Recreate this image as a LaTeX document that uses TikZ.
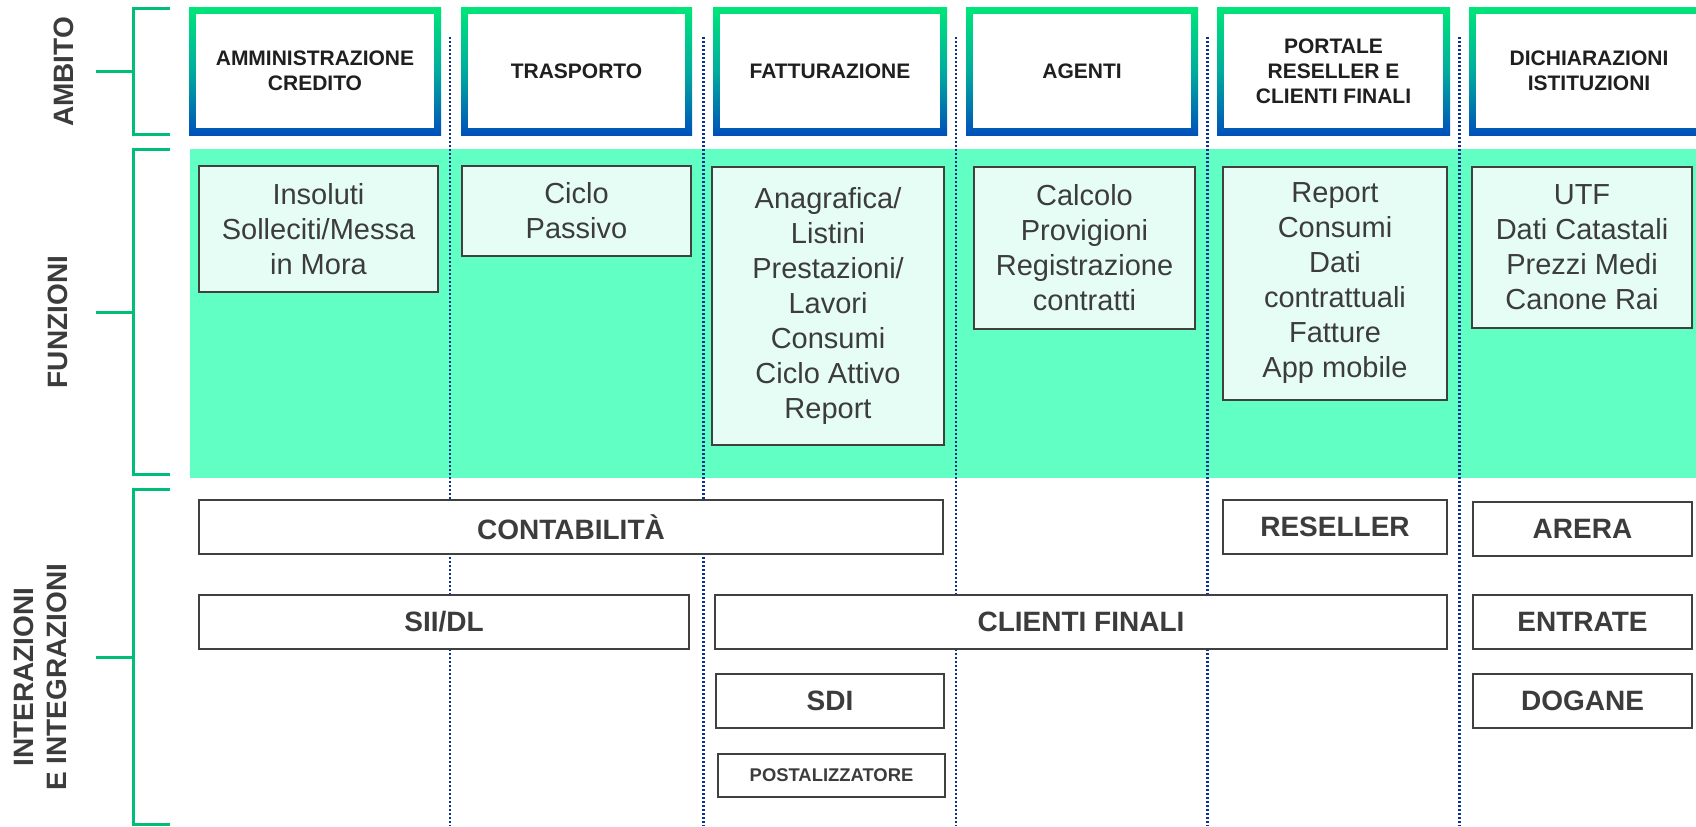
\documentclass[tikz,border=0pt]{standalone}
\usepackage{fontspec}
\setmainfont{Liberation Sans}
\definecolor{hgreen}{RGB}{0,230,120}
\definecolor{hmid}{RGB}{0,172,158}
\definecolor{hblue}{RGB}{0,80,185}
\definecolor{band}{RGB}{98,255,196}
\definecolor{fnfill}{RGB}{230,253,245}
\definecolor{boxline}{RGB}{64,64,64}
\definecolor{txtgray}{RGB}{60,60,60}
\definecolor{brgreen}{RGB}{0,190,120}
\definecolor{dotblue}{RGB}{10,50,150}

\begin{document}
\begin{tikzpicture}[
	x=0.5pt, 
	y=-0.5pt, 
	align=center, 
	hdr/.style={
		minimum height=64pt, 
		inner sep=2pt, 
		top color=hgreen, 
		bottom color=hblue, 
		middle color=hmid, 
		text=black!88, 
		font=\fontsize{10.5}{12.5}\selectfont\bfseries, 
		path picture={
			\fill[white] ([shift={(3.5pt,-3.5pt)}]path picture bounding box.north west) 
				rectangle ([shift={(-3.5pt,3.5pt)}]path picture bounding box.south east);
		}
	}, 
	fn/.style={
		draw=boxline, 
		fill=fnfill, 
		line width=1pt, 
		inner sep=2pt, 
		text=txtgray, 
		font=\fontsize{14.5}{17.5}\selectfont
	}, 
	ibox/.style={
		draw=boxline, 
		fill=white, 
		line width=1pt, 
		minimum height=27pt, 
		inner sep=2pt, 
		text=txtgray, 
		font=\fontsize{14}{16}\selectfont\bfseries
	}, 
	side/.style={
		rotate=90, 
		text=txtgray, 
		font=\fontsize{14}{16.5}\selectfont\bfseries
	}, 
	bracket/.style={
		draw=brgreen, 
		line width=1.5pt
	}, 
	sep/.style={
		draw=dotblue, 
		line width=1.3pt, 
		dash pattern=on 1.1pt off 0.9pt
	}]

	\useasboundingbox (0,0) rectangle (1696,826);

	\fill[band] (190,149) rectangle (1696,478);

	\foreach \x in {450,703.5,956,1207.5,1459.5}
		\draw[sep] (\x,37) -- (\x,826);

	\node[hdr, minimum width=126pt] (h_cred) at (315,71) {AMMINISTRAZIONE\\CREDITO};
	\node[hdr, minimum width=115.5pt] (h_tras) at (576.5,71) {TRASPORTO};
	\node[hdr, minimum width=117pt] (h_fatt) at (830,71) {FATTURAZIONE};
	\node[hdr, minimum width=116pt] (h_age) at (1082,71) {AGENTI};
	\node[hdr, minimum width=116.5pt] (h_port) at (1333.5,71) {PORTALE\\RESELLER E\\CLIENTI FINALI};
	\node[hdr, minimum width=120pt] (h_dich) at (1589,71) {DICHIARAZIONI\\ISTITUZIONI};

	\node[fn, minimum width=119.5pt, minimum height=63pt] (f_cred) at (318.5,229) {Insoluti\\Solleciti/Messa\\in Mora};
	\node[fn, minimum width=114.5pt, minimum height=45pt] (f_tras) at (576.5,211) {Ciclo\\Passivo};
	\node[fn, minimum width=116pt, minimum height=139pt] (f_fatt) at (828,306) {Anagrafica/\\Listini\\Prestazioni/\\Lavori\\Consumi\\Ciclo Attivo\\Report};
	\node[fn, minimum width=110.5pt, minimum height=81pt] (f_age) at (1084.5,248) {Calcolo\\Provigioni\\Registrazione\\contratti};
	\node[fn, minimum width=112pt, minimum height=116.5pt] (f_port) at (1335,283.5) {Report\\Consumi\\Dati\\contrattuali\\Fatture\\App mobile};
	\node[fn, minimum width=110pt, minimum height=80.5pt] (f_dich) at (1582,247.5) {UTF\\Dati Catastali\\Prezzi Medi\\Canone Rai};

	\node[ibox, minimum width=372pt] (i_cont) at (571,527) {CONTABILITÀ};
	\node[ibox, minimum width=112pt] (i_res) at (1335,527) {RESELLER};
	\node[ibox, minimum width=109.5pt] (i_arera) at (1582.5,529) {ARERA};
	\node[ibox, minimum width=245pt] (i_sii) at (444,622) {SII/DL};
	\node[ibox, minimum width=366pt] (i_cli) at (1081,622) {CLIENTI FINALI};
	\node[ibox, minimum width=109.5pt] (i_entr) at (1582.5,622) {ENTRATE};
	\node[ibox, minimum width=114pt] (i_sdi) at (830,701) {SDI};
	\node[ibox, minimum width=109.5pt] (i_dog) at (1582.5,701) {DOGANE};
	\node[ibox, minimum width=113.5pt, minimum height=21.5pt, font=\fontsize{9.2}{11}\selectfont\bfseries] (i_post) at (831.5,775.5) {POSTALIZZATORE};

	\draw[bracket] (170,8) -- (133,8) -- (133,134) -- (170,134) (96,71) -- (133,71);
	\draw[bracket] (170,149) -- (133,149) -- (133,474) -- (170,474) (96,312) -- (133,312);
	\draw[bracket] (170,489) -- (133,489) -- (133,824) -- (170,824) (96,657) -- (133,657);

	\node[side] (l_amb) at (63.5,72) {AMBITO};
	\node[side] (l_fun) at (57.5,322) {FUNZIONI};
	\node[side] (l_int) at (40.5,677) {INTERAZIONI\\E INTEGRAZIONI};
\end{tikzpicture}
\end{document}
